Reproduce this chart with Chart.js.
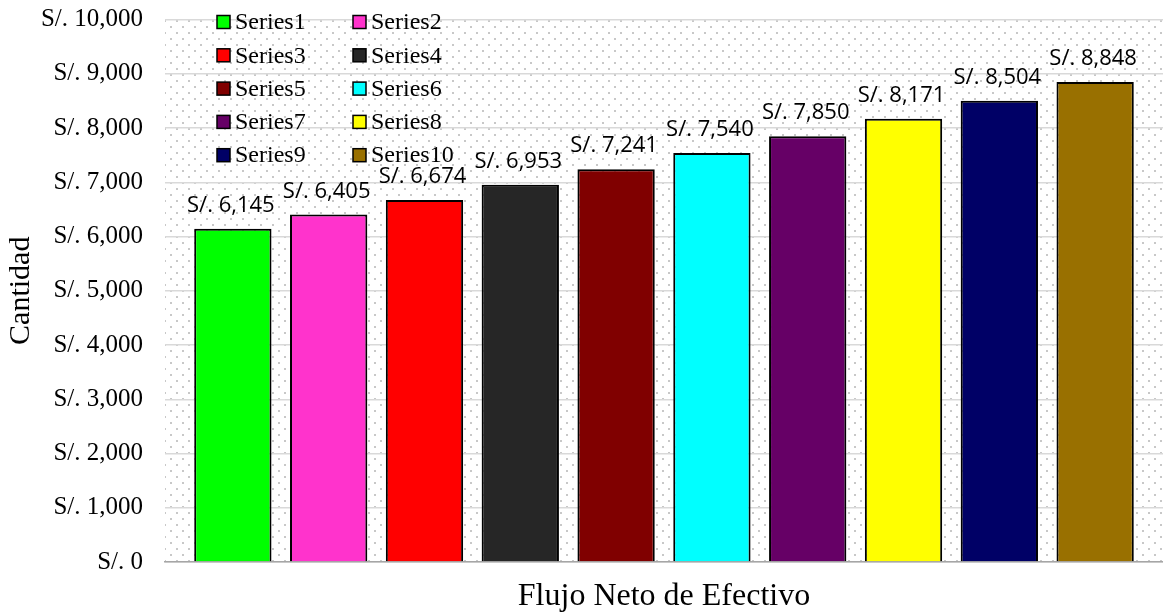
<!DOCTYPE html>
<html>
<head>
<meta charset="utf-8">
<script src="https://cdn.jsdelivr.net/npm/chart.js@4/dist/chart.umd.min.js"></script>
<style>
html,body{margin:0;padding:0;background:#fff;}
#wrap{width:1163px;height:616px;position:relative;}
</style>
</head>
<body>
<div id="wrap"><canvas id="c" width="1163" height="616"></canvas></div>
<script>
const seriesNames = ['Series1','Series2','Series3','Series4','Series5','Series6','Series7','Series8','Series9','Series10'];
const seriesValues = [6145, 6405, 6674, 6953, 7241, 7540, 7850, 8171, 8504, 8848];
const seriesColors = ['#00ff00','#ff33cc','#ff0000','#262626','#800000','#00ffff','#660066','#ffff00','#000066','#997000'];
const categories = [''];
const yTicksMin = 0, yTicksMax = 10000, yTicksStep = 1000;
const xTitle = 'Flujo Neto de Efectivo';
const yTitle = 'Cantidad';

const fmt = v => 'S/. ' + Number(v).toLocaleString('en-US');
const SERIF = '"Liberation Serif", "Times New Roman", Times, serif';

function makePattern(ctx){
  const t = document.createElement('canvas');
  t.width = 12; t.height = 12;
  const g = t.getContext('2d');
  g.fillStyle = '#ffffff'; g.fillRect(0,0,12,12);
  g.fillStyle = '#c8c8c8';
  g.fillRect(2,2,2,2);
  g.fillRect(8,8,2,2);
  return ctx.createPattern(t,'repeat');
}

const bgPlugin = {
  id:'bgPattern',
  beforeDraw(chart){
    const {ctx, chartArea:a} = chart;
    ctx.save();
    ctx.fillStyle = makePattern(ctx);
    ctx.fillRect(a.left, a.top, a.right - a.left, a.bottom - a.top);
    ctx.restore();
  }
};

const labelPlugin = {
  id:'valueLabels',
  afterDatasetsDraw(chart){
    const ctx = chart.ctx;
    ctx.save();
    ctx.font = 'normal 400 22px "Open Sans", "Liberation Sans", sans-serif';
    ctx.fillStyle = '#000';
    ctx.textAlign = 'center';
    ctx.textBaseline = 'alphabetic';
    chart.data.datasets.forEach((ds, i) => {
      const meta = chart.getDatasetMeta(i);
      meta.data.forEach((bar, j) => {
        ctx.fillText(fmt(ds.data[j]), bar.x - 2, bar.y - 17);
      });
    });
    ctx.restore();
  }
};

const legendPlugin = {
  id:'gridLegend',
  afterDraw(chart){
    const ctx = chart.ctx, a = chart.chartArea;
    ctx.save();
    ctx.font = 'normal 400 24px ' + SERIF;
    ctx.textBaseline = 'middle';
    ctx.textAlign = 'left';
    chart.data.datasets.forEach((ds, i) => {
      const col = i % 2, row = Math.floor(i / 2);
      const bx = a.left + 52 + col * 136;
      const cy = a.top + 2.5 + row * 33.3;
      ctx.fillStyle = ds.backgroundColor;
      ctx.fillRect(bx, cy - 6.5, 13, 13);
      ctx.lineWidth = 1.5;
      ctx.strokeStyle = '#000';
      ctx.strokeRect(bx, cy - 6.5, 13, 13);
      ctx.fillStyle = '#000';
      ctx.fillText(ds.label, bx + 18, cy + 1);
    });
    ctx.restore();
  }
};

const datasets = seriesNames.map((n, i) => ({
  label: n,
  data: [seriesValues[i]],
  backgroundColor: seriesColors[i],
  borderColor: '#000',
  borderWidth: 2,
  categoryPercentage: 0.96,
  barPercentage: 0.807
}));

const chart = new Chart(document.getElementById('c'), {
  type:'bar',
  data:{labels: categories, datasets},
  plugins:[bgPlugin, labelPlugin, legendPlugin],
  options:{
    responsive:false,
    animation:false,
    layout:{padding:{top:19.5,left:0,right:0,bottom:0}},
    plugins:{legend:{display:false}, tooltip:{enabled:false}},
    scales:{
      x:{
        ticks:{display:false},
        grid:{display:false, drawTicks:false},
        border:{display:true, color:'#a6a6a6', width:1.5},
        title:{display:true, text:xTitle, color:'#000', font:{family:SERIF, size:32}, padding:{top:0,bottom:0}},
        afterFit(s){ s.height = 54; s.paddingLeft = 0; s.paddingRight = 0; }
      },
      y:{
        min:yTicksMin, max:yTicksMax,
        ticks:{stepSize:yTicksStep, callback:v => fmt(v), color:'#000', padding:22, font:{family:SERIF, size:25}},
        grid:{color:'#d9d9d9', lineWidth:1.5, drawTicks:false},
        border:{display:false},
        title:{display:true, text:yTitle, color:'#000', font:{family:SERIF, size:30}, padding:{top:3,bottom:0}},
        afterFit(s){ s.width = 165; s.paddingTop = 0; s.paddingBottom = 0; }
      }
    }
  }
});
if (document.fonts && document.fonts.ready) {
  document.fonts.ready.then(() => chart.update('none'));
}
</script>
</body>
</html>
